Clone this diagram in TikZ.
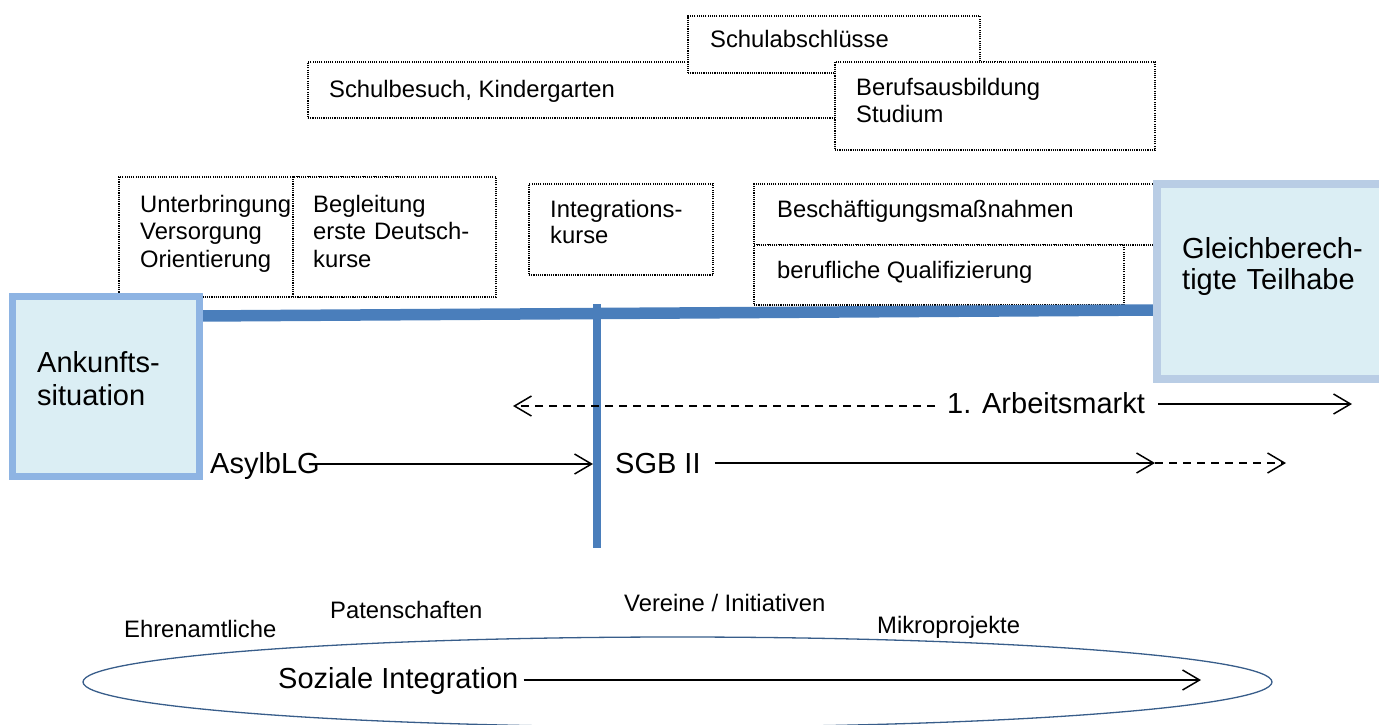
\documentclass[tikz,border=0pt]{standalone}
\usepackage{fontspec}
\setmainfont{Liberation Sans}
\usetikzlibrary{arrows.meta}
\definecolor{lineblue}{HTML}{4A7EBB}
\definecolor{boxfill}{HTML}{DBEEF4}
\definecolor{ankborder}{HTML}{8EB4E3}
\definecolor{gleichborder}{HTML}{B9CDE5}
\definecolor{ellblue}{HTML}{385D8A}
\begin{document}
\begin{tikzpicture}[x=1pt,y=-1pt,
  dotbox/.style={draw=black, fill=white, line width=1.2pt, dash pattern=on 1.1pt off 1.1pt,
    rectangle, inner sep=0pt, outer sep=0pt, anchor=north west},
  bigbox/.style={fill=boxfill, rectangle, inner sep=0pt, outer sep=0pt, anchor=north west},
  small/.style={font=\fontsize{23.8}{27.5}\selectfont, inner sep=0pt, anchor=base west, align=left},
  big/.style={font=\fontsize{29}{33}\selectfont, inner sep=0pt, anchor=base west, align=left},
  arr/.style={line width=1.5pt, -{Straight Barb[length=17pt,width=20pt]}},
  dashline/.style={dash pattern=on 8pt off 6pt},
  axis/.style={line width=11.5pt, draw=lineblue}
]
\useasboundingbox (0,0) rectangle (1379,724);

% upper dotted boxes
\node[dotbox, minimum width=692, minimum height=56] (bsch) at (308,62) {};
\node[dotbox, minimum width=292, minimum height=57] (babs) at (688,16) {};
\node[dotbox, minimum width=320, minimum height=88] (beruf) at (835,62) {};

\node[dotbox, minimum width=281, minimum height=120] (unter) at (119,177) {};
\node[dotbox, minimum width=203, minimum height=120] (begl) at (293,177) {};
\node[dotbox, minimum width=184, minimum height=91] (integ) at (529,184) {};
\node[dotbox, minimum width=446, minimum height=61] (besch) at (754,184) {};
\node[dotbox, minimum width=370, minimum height=60] (qual) at (754,245) {};

% texts of dotted boxes
\node[small] (tbabs) at (710,47) {Schulabschlüsse};
\node[small] (tbsch) at (329,97) {Schulbesuch, Kindergarten};
\node[small, text width=250pt] (tberuf) at (856,95) {Berufsausbildung\\Studium};
\node[small, text width=160pt] (tunter) at (140,212) {Unterbringung\\Versorgung\\Orientierung};
\node[small, text width=170pt] (tbegl) at (313,212) {Begleitung\\erste Deutsch-\\kurse};
\node[small, text width=150pt, font=\fontsize{23.8}{26.5}\selectfont] (tinteg) at (550,217) {Integrations-\\kurse};
\node[small] (tbesch) at (777,217) {Beschäftigungsmaßnahmen};
\node[small] (tqual) at (777,278) {berufliche Qualifizierung};

% main boxes (placed before axis so the axis can refer to them; drawn again on top)
\node[bigbox, draw=ankborder, line width=7pt, minimum width=187, minimum height=180] (ank) at (12.5,296.5) {};
\node[bigbox, draw=gleichborder, line width=8pt, minimum width=227, minimum height=195] (gleich) at (1157,184) {};

% axis lines
\draw[axis] ([yshift=-19.5pt]ank.north east) -- ([yshift=-126pt]gleich.north west);
\coordinate (vtop) at (597,304);
\coordinate (vbot) at (597,548);
\draw[line width=8pt, lineblue] (vtop) -- (vbot);

% redraw the main boxes above the axis
\node[bigbox, draw=ankborder, line width=7pt, minimum width=187, minimum height=180] at (12.5,296.5) {};
\node[bigbox, draw=gleichborder, line width=8pt, minimum width=227, minimum height=195] at (1157,184) {};

\node[big, text width=160pt] (tank) at (37,372) {Ankunfts-\\situation};
\node[big, text width=200pt, font=\fontsize{29}{31}\selectfont] (tgleich) at (1182,258) {Gleichberech-\\tigte Teilhabe};

% legal bases and labour market
\node[big] (asyl) at (210,473) {AsylbLG};
\node[big] (sgb) at (615,473) {SGB II};
\node[big] (am) at (947,413) {1. Arbeitsmarkt};

\coordinate (asylEnd) at (593,464);
\coordinate (sgbEnd) at (1155,463);
\coordinate (sgbEnd2) at (1286,463);
\coordinate (amL) at (513,406);
\coordinate (amR) at (1352,404);

\draw[arr] ([xshift=-3pt,yshift=9pt]asyl.base east) -- (asylEnd);
\draw[arr] ([xshift=14pt,yshift=10pt]sgb.base east) -- (sgbEnd);
\draw[arr, dashline] (sgbEnd) -- (sgbEnd2);
\draw[arr, dashline] ([xshift=-12pt,yshift=7pt]am.base west) -- (amL);
\draw[arr] ([xshift=13pt,yshift=9pt]am.base east) -- (amR);

% social integration
\draw[draw=ellblue, line width=1.3pt] (677.5,682) ellipse [x radius=594.5, y radius=45];
\node[small] (ehren) at (124,637) {Ehrenamtliche};
\node[small] (paten) at (330,618) {Patenschaften};
\node[small] (verein) at (624,611) {Vereine / Initiativen};
\node[small] (mikro) at (877,633) {Mikroprojekte};
\node[big] (soz) at (278,688) {Soziale Integration};
\coordinate (sozEnd) at (1201,680);
\draw[arr] ([xshift=5pt,yshift=8pt]soz.base east) -- (sozEnd);
\end{tikzpicture}
\end{document}
